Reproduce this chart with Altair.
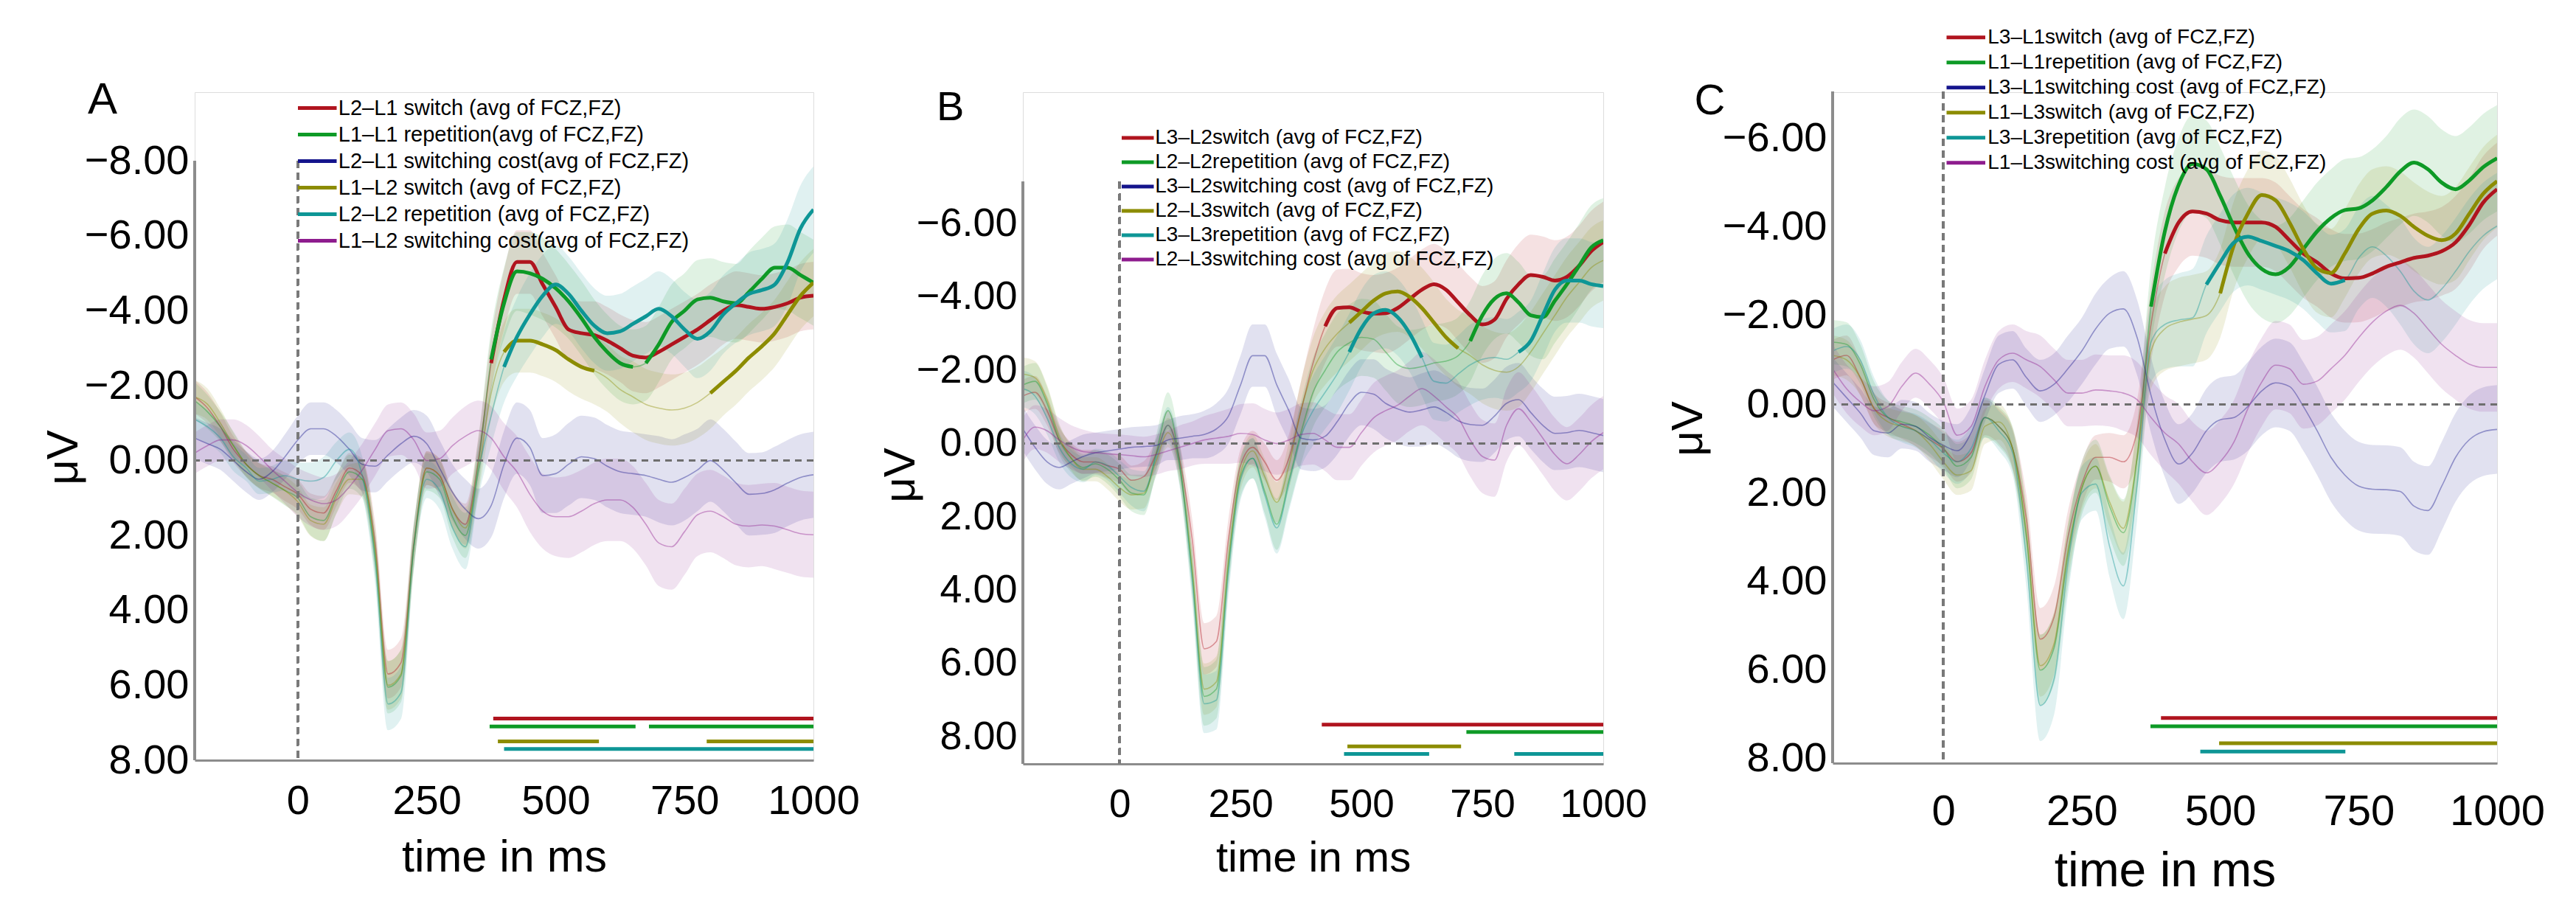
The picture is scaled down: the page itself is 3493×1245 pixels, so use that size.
import altair as alt
import pandas as pd

FONT = "Liberation Sans"
T = list(range(-200, 1001, 25))
COLORS = ["#b0141e", "#0e9a26", "#14148c", "#8c8c00", "#0e9696", "#8e1c8e"]

# ---------------- panel A ----------------
A_LABELS = [
    "L2–L1 switch (avg of FCZ,FZ)",
    "L1–L1 repetition(avg of FCZ,FZ)",
    "L2–L1 switching cost(avg of FCZ,FZ)",
    "L1–L2 switch (avg of FCZ,FZ)",
    "L2–L2 repetition (avg of FCZ,FZ)",
    "L1–L2 switching cost(avg of FCZ,FZ)",
]
A_RED = [-1.7, -1.4, -0.9, -0.3, 0.1, 0.4, 0.5, 0.7,
         0.9, 1.3, 1.4, 0.8, 0.2, 0.4, 2.2, 5.7,
         5.4, 2.2, 0.2, 0.4, 1.3, 1.7, 0.0, -2.6,
         -4.3, -5.3, -5.3, -4.7, -4.1, -3.5, -3.4, -3.35,
         -3.2, -3.0, -2.8, -2.75, -2.9, -3.1, -3.3, -3.5,
         -3.75, -4.0, -4.15, -4.1, -4.05, -4.1, -4.2, -4.35,
         -4.4]
A_GREEN = [-1.6, -1.3, -0.9, -0.4, 0.1, 0.4, 0.6, 0.8,
           1.0, 1.5, 1.6, 0.9, 0.3, 0.5, 2.5, 6.05,
           5.75, 2.3, 0.3, 0.5, 1.5, 2.0, 0.1, -2.7,
           -4.2, -5.05, -5.0, -4.85, -4.6, -4.25, -3.8, -3.3,
           -2.9, -2.6, -2.5, -2.6, -3.1, -3.7, -4.0, -4.3,
           -4.35, -4.25, -4.2, -4.5, -4.85, -5.15, -5.15, -4.95,
           -4.75]
A_BLUE = [-0.6, -0.45, -0.3, 0.0, 0.3, 0.5, 0.3, -0.1,
          -0.55, -0.85, -0.85, -0.65, -0.3, 0.1, 0.15, -0.15,
          -0.45, -0.65, -0.45, 0.2, 0.85, 1.3, 1.55, 1.2,
          0.1, -0.6, -0.35, 0.4, 0.35, 0.1, -0.1, -0.05,
          0.15, 0.3, 0.35, 0.4, 0.5, 0.58, 0.45, 0.25,
          0.0, 0.25, 0.6, 0.9, 0.88, 0.78, 0.6, 0.45,
          0.38]
A_OLIVE = [-1.7, -1.5, -1.0, -0.4, 0.1, 0.4, 0.6, 0.8,
           1.1, 1.6, 1.7, 1.0, 0.5, 0.5, 2.4, 6.0,
           5.7, 2.3, 0.2, 0.4, 1.3, 1.8, 0.3, -1.8,
           -2.9, -3.2, -3.2, -3.1, -2.95, -2.7, -2.5, -2.4,
           -2.2, -1.9, -1.7, -1.5, -1.4, -1.35, -1.4, -1.55,
           -1.8, -2.1, -2.4, -2.75, -3.05, -3.4, -3.9, -4.4,
           -4.75]
A_TEAL = [-1.1, -0.9, -0.6, -0.1, 0.2, 0.55, 0.5, 0.4,
          0.5, 0.55, 0.45, 0.0, -0.3, 0.4, 2.7, 6.5,
          6.2, 2.3, 0.5, 0.8, 1.8, 2.3, 0.3, -1.2,
          -2.5, -3.3, -3.9, -4.4, -4.7, -4.45, -4.0, -3.6,
          -3.4, -3.45, -3.65, -3.85, -4.05, -3.85, -3.5, -3.25,
          -3.45, -3.9, -4.2, -4.45, -4.55, -4.7, -5.3, -6.2,
          -6.7]
A_MAGENTA = [-0.2, -0.4, -0.55, -0.55, -0.4, -0.1, 0.25, 0.55,
             0.85, 1.05, 1.15, 1.05, 0.7, 0.25, -0.3, -0.8,
             -0.85, -0.55, 0.0, -0.05, -0.4, -0.65, -0.8, -0.6,
             -0.1, 0.3, 0.9, 1.35, 1.5, 1.5, 1.35, 1.15,
             1.05, 1.05, 1.25, 1.7, 2.2, 2.3, 1.9, 1.45,
             1.35, 1.5, 1.7, 1.75, 1.72, 1.75, 1.85, 1.95,
             1.98]
A_SEM_SWITCH = [0.45, 0.42, 0.38, 0.35, 0.33, 0.33, 0.35, 0.38,
                0.4, 0.42, 0.45, 0.42, 0.4, 0.45, 0.55, 0.65,
                0.65, 0.55, 0.45, 0.45, 0.5, 0.55, 0.6, 0.7,
                0.8, 0.85, 0.85, 0.85, 0.85, 0.85, 0.85, 0.9,
                0.9, 0.9, 0.95, 0.95, 0.95, 0.95, 0.95, 0.95,
                0.95, 0.9, 0.9, 0.9, 0.9, 0.9, 0.9, 0.9,
                0.9]
A_SEM_REP = [0.5, 0.45, 0.4, 0.38, 0.35, 0.35, 0.36, 0.4,
             0.45, 0.5, 0.55, 0.5, 0.45, 0.5, 0.6, 0.7,
             0.7, 0.6, 0.5, 0.5, 0.55, 0.6, 0.7, 0.8,
             0.95, 1.05, 1.1, 1.1, 1.05, 1.0, 1.0, 1.0,
             1.0, 1.0, 1.0, 1.0, 1.0, 1.0, 1.0, 1.05,
             1.05, 1.05, 1.05, 1.1, 1.1, 1.1, 1.15, 1.15,
             1.15]
A_SEM_COST = [0.55, 0.55, 0.55, 0.55, 0.55, 0.55, 0.55, 0.6,
              0.65, 0.7, 0.7, 0.7, 0.7, 0.7, 0.7, 0.7,
              0.7, 0.7, 0.75, 0.75, 0.75, 0.8, 0.8, 0.85,
              0.9, 0.95, 1.0, 1.0, 1.05, 1.1, 1.1, 1.1,
              1.1, 1.1, 1.1, 1.1, 1.15, 1.15, 1.15, 1.1,
              1.1, 1.1, 1.1, 1.1, 1.1, 1.15, 1.15, 1.15,
              1.15]
A_WINDOWS = [[(379, 1000)], [(372, 655), (681, 1000)], [],
             [(388, 584), (793, 1000)], [(400, 1000)], []]
A_BAR_ROWS = [6.89, 7.1, None, 7.5, 7.7, None]

# ---------------- panel B ----------------
B_LABELS = [
    "L3–L2switch (avg of FCZ,FZ)",
    "L2–L2repetition (avg of FCZ,FZ)",
    "L3–L2switching cost (avg of FCZ,FZ)",
    "L2–L3switch (avg of FCZ,FZ)",
    "L3–L3repetition (avg of FCZ,FZ)",
    "L2–L3switching cost (avg of FCZ,FZ)",
]
B_RED = [-1.3, -1.4, -0.9, -0.1, 0.3, 0.5, 0.5, 0.6,
         0.7, 1.0, 0.9, 0.3, -0.5, 0.5, 2.6, 5.6,
         5.4, 2.6, 0.6, 0.1, 0.5, 1.0, 0.4, -0.9,
         -2.2, -3.2, -3.7, -3.72, -3.6, -3.55, -3.56, -3.7,
         -3.95, -4.2, -4.35, -4.2, -3.85, -3.5, -3.25, -3.38,
         -3.95, -4.35, -4.6, -4.55, -4.45, -4.55, -4.85, -5.25,
         -5.5]
B_GREEN = [-1.6, -1.7, -1.1, -0.1, 0.4, 0.65, 0.55, 0.7,
           1.0, 1.35, 1.4, 0.3, -0.9, 0.6, 3.5, 6.9,
           6.7, 3.3, 0.9, 0.4, 1.3, 2.2, 1.0, -0.3,
           -1.4, -2.0, -2.5, -2.75, -2.9, -2.85, -2.5, -2.15,
           -2.05, -2.1, -2.2, -2.25, -2.4, -2.8, -3.5, -3.95,
           -4.1, -3.85, -3.5, -3.45, -3.9, -4.35, -4.85, -5.35,
           -5.55]
B_BLUE = [-0.4, 0.1, 0.5, 0.65, 0.5, 0.35, 0.25, 0.2,
          0.15, 0.1, 0.08, 0.05, -0.1, -0.15, -0.2, -0.25,
          -0.4, -0.75, -1.6, -2.4, -2.4, -1.6, -0.9, -0.15,
          -0.1, -0.2, -0.6, -1.1, -1.4, -1.35, -1.1, -0.95,
          -0.86, -0.92, -1.0, -0.85, -0.62, -0.52, -0.5, -0.75,
          -1.1, -1.2, -0.85, -0.5, -0.28, -0.3, -0.36, -0.3,
          -0.22]
B_OLIVE = [-1.9, -1.8, -1.2, -0.2, 0.4, 0.7, 0.7, 0.9,
           1.2, 1.4, 1.35, 0.5, -0.3, 0.7, 3.4, 6.7,
           6.5, 3.2, 0.8, 0.2, 0.9, 1.6, 0.6, -0.9,
           -2.0, -2.6, -3.0, -3.3, -3.6, -3.9, -4.1, -4.15,
           -4.0, -3.7, -3.3, -2.9, -2.6, -2.4, -2.15, -2.0,
           -1.95, -2.1, -2.5, -3.0, -3.5, -4.0, -4.4, -4.8,
           -5.0]
B_TEAL = [-1.5, -1.3, -0.7, 0.1, 0.55, 0.7, 0.5, 0.6,
          0.9, 1.2, 1.3, 0.4, -0.5, 0.7, 3.7, 7.1,
          7.0, 3.5, 1.0, 0.4, 1.4, 2.3, 1.1, -0.2,
          -0.9, -1.4, -1.9, -2.5, -3.15, -3.55, -3.65, -3.45,
          -3.0, -2.35, -1.7, -1.65, -1.9, -2.15, -2.3, -2.35,
          -2.3, -2.5, -2.8, -3.5, -4.2, -4.45, -4.45, -4.35,
          -4.3]
B_MAGENTA = [-0.1, -0.45, -0.35, -0.1, 0.1, 0.22, 0.25, 0.28,
             0.3, 0.33, 0.36, 0.3, 0.2, 0.1, 0.0, -0.1,
             -0.15, -0.2, -0.28, -0.25, -0.1, 0.0, -0.1, -0.25,
             -0.28, -0.1, 0.1, 0.1, -0.3, -0.7, -0.9, -1.05,
             -1.3, -1.5, -1.3, -1.0, -0.7, -0.1, 0.35, 0.45,
             -0.5, -0.95, -0.6, -0.15, 0.3, 0.55, 0.3, -0.05,
             -0.3]
B_SEM_SWITCH = [0.45, 0.45, 0.4, 0.35, 0.33, 0.33, 0.33, 0.35,
                0.38, 0.4, 0.42, 0.4, 0.4, 0.45, 0.55, 0.7,
                0.7, 0.55, 0.45, 0.45, 0.5, 0.55, 0.65, 0.8,
                0.9, 1.0, 1.05, 1.05, 1.05, 1.05, 1.1, 1.1,
                1.1, 1.1, 1.1, 1.05, 1.05, 1.05, 1.05, 1.05,
                1.05, 1.1, 1.1, 1.1, 1.1, 1.1, 1.1, 1.1,
                1.1]
B_SEM_REP = [0.5, 0.5, 0.45, 0.4, 0.38, 0.36, 0.36, 0.4,
             0.45, 0.5, 0.55, 0.5, 0.5, 0.55, 0.65, 0.8,
             0.8, 0.65, 0.55, 0.55, 0.6, 0.7, 0.75, 0.85,
             0.95, 1.0, 1.05, 1.05, 1.05, 1.05, 1.05, 1.05,
             1.05, 1.05, 1.05, 1.05, 1.05, 1.1, 1.1, 1.1,
             1.1, 1.1, 1.1, 1.15, 1.15, 1.15, 1.15, 1.15,
             1.15]
B_SEM_COST = [0.6, 0.6, 0.6, 0.6, 0.6, 0.6, 0.55, 0.55,
              0.55, 0.55, 0.55, 0.55, 0.55, 0.6, 0.6, 0.65,
              0.7, 0.75, 0.8, 0.85, 0.85, 0.85, 0.85, 0.85,
              0.85, 0.85, 0.9, 0.9, 0.9, 0.95, 0.95, 0.95,
              0.95, 1.0, 1.0, 1.0, 1.0, 1.0, 1.0, 1.0,
              1.0, 1.0, 1.0, 1.0, 1.0, 1.0, 1.0, 1.0,
              1.0]
B_WINDOWS = [[(418, 1000)], [(717, 1000)], [],
             [(471, 706)], [(464, 640), (816, 1000)], []]
B_BAR_ROWS = [7.67, 7.87, None, 8.26, 8.47, None]

# ---------------- panel C ----------------
C_LABELS = [
    "L3–L1switch (avg of FCZ,FZ)",
    "L1–L1repetition (avg of FCZ,FZ)",
    "L3–L1switching cost (avg of FCZ,FZ)",
    "L1–L3switch (avg of FCZ,FZ)",
    "L3–L3repetition (avg of FCZ,FZ)",
    "L1–L3switching cost (avg of FCZ,FZ)",
]
C_RED = [-1.0, -1.1, -0.6, 0.1, 0.3, 0.45, 0.6, 0.8,
         1.0, 1.3, 1.1, 0.3, 0.5, 1.0, 2.6, 5.3,
         4.8, 3.0, 1.8, 1.2, 1.2, 1.3, 0.6, -1.8,
         -3.4, -4.1, -4.35, -4.3, -4.15, -4.1, -4.1, -4.1,
         -4.0, -3.7, -3.4, -3.2, -2.95, -2.84, -2.85, -2.95,
         -3.1, -3.2, -3.3, -3.35, -3.45, -3.65, -4.05, -4.55,
         -4.85]
C_GREEN = [-1.4, -1.35, -0.9, -0.1, 0.3, 0.4, 0.5, 0.7,
           1.0, 1.4, 1.2, 0.3, 0.5, 1.0, 3.0, 6.0,
           5.5, 3.4, 1.9, 1.4, 2.3, 2.9, 1.2, -2.2,
           -3.9, -4.95, -5.42, -5.3, -4.7, -4.0, -3.4, -3.05,
           -2.93, -3.1, -3.5, -3.9, -4.2, -4.38, -4.42, -4.6,
           -4.9, -5.25, -5.45, -5.3, -5.0, -4.85, -5.05, -5.35,
           -5.55]
C_BLUE = [-0.5, -0.15, 0.2, 0.6, 0.65, 0.45, 0.5, 0.75,
          0.93, 1.05, 0.65, -0.2, -0.9, -1.0, -0.6, -0.3,
          -0.45, -0.8, -1.2, -1.7, -2.05, -2.15, -1.5, -0.2,
          0.8, 1.35, 1.1, 0.6, 0.35, 0.3, 0.05, -0.3,
          -0.48, -0.4, 0.05, 0.6, 1.2, 1.6, 1.85, 1.92,
          1.93, 1.97, 2.3, 2.4, 1.85, 1.2, 0.8, 0.62,
          0.57]
C_OLIVE = [-1.1, -1.0, -0.6, 0.1, 0.4, 0.5, 0.6, 0.9,
           1.3, 1.6, 1.5, 0.5, 0.4, 1.0, 2.9, 5.9,
           5.4, 3.3, 1.9, 1.4, 2.2, 2.8, 1.2, -1.2,
           -1.7, -1.85, -1.92, -2.0, -2.5, -3.6, -4.3, -4.72,
           -4.6, -4.1, -3.5, -3.06, -2.96, -3.4, -3.95, -4.3,
           -4.37, -4.25, -4.0, -3.8, -3.7, -3.85, -4.3, -4.75,
           -5.03]
C_TEAL = [-1.2, -1.3, -1.0, -0.2, 0.3, 0.5, 0.6, 0.8,
          1.1, 1.3, 1.0, 0.3, 0.6, 1.1, 3.5, 6.8,
          6.2, 3.6, 2.0, 1.8, 3.2, 4.1, 1.8, -1.4,
          -1.8, -1.9, -1.95, -2.7, -3.2, -3.65, -3.78, -3.68,
          -3.57, -3.45, -3.25, -2.95, -2.72, -2.8, -3.3, -3.55,
          -3.35, -3.0, -2.55, -2.35, -2.6, -3.0, -3.45, -3.8,
          -4.02]
C_MAGENTA = [-0.8, -0.35, -0.05, 0.15, 0.05, -0.4, -0.7, -0.45,
             -0.05, 0.7, 0.5, -0.4, -1.0, -1.15, -1.0, -0.85,
             -0.55, -0.25, -0.25, -0.32, -0.3, -0.25, -0.1, 0.3,
             0.65, 0.9, 1.3, 1.55, 1.3, 0.85, 0.1, -0.5,
             -0.88, -0.8, -0.45, -0.52, -0.8, -1.1, -1.5, -1.85,
             -2.1, -2.23, -2.05, -1.7, -1.35, -1.1, -0.9, -0.83,
             -0.83]
C_SEM_SWITCH = [0.45, 0.45, 0.4, 0.35, 0.33, 0.33, 0.35, 0.38,
                0.4, 0.45, 0.45, 0.4, 0.4, 0.45, 0.55, 0.7,
                0.7, 0.6, 0.5, 0.5, 0.55, 0.6, 0.7, 0.85,
                0.95, 1.0, 1.0, 1.0, 1.0, 1.0, 1.0, 1.0,
                1.0, 1.0, 1.0, 1.0, 1.0, 1.0, 1.0, 1.0,
                1.0, 1.0, 1.0, 1.0, 1.0, 1.05, 1.05, 1.05,
                1.05]
C_SEM_REP = [0.5, 0.5, 0.45, 0.4, 0.38, 0.36, 0.38, 0.4,
             0.45, 0.5, 0.5, 0.45, 0.45, 0.5, 0.65, 0.8,
             0.8, 0.7, 0.6, 0.6, 0.7, 0.75, 0.8, 0.9,
             1.0, 1.05, 1.1, 1.1, 1.1, 1.1, 1.1, 1.1,
             1.1, 1.1, 1.1, 1.1, 1.1, 1.15, 1.15, 1.15,
             1.15, 1.2, 1.2, 1.2, 1.2, 1.2, 1.2, 1.2,
             1.2]
C_SEM_COST = [0.55, 0.55, 0.55, 0.55, 0.55, 0.55, 0.55, 0.55,
              0.55, 0.6, 0.6, 0.6, 0.65, 0.65, 0.65, 0.7,
              0.7, 0.75, 0.75, 0.8, 0.8, 0.85, 0.85, 0.85,
              0.85, 0.9, 0.9, 0.95, 0.95, 0.95, 1.0, 1.0,
              1.0, 1.0, 1.0, 1.0, 1.0, 1.0, 1.0, 1.0,
              1.0, 1.0, 1.0, 1.0, 1.0, 1.0, 1.0, 1.0,
              1.0]
C_WINDOWS = [[(393, 1000)], [(374, 1000)], [],
             [(498, 1000)], [(464, 726)], []]
C_BAR_ROWS = [7.08, 7.27, None, 7.65, 7.84, None]


def build_frames(labels, series, sems, windows, bar_rows):
    rows, thick, bars = [], [], []
    for lab, vals, sem in zip(labels, series, sems):
        for t, v, s in zip(T, vals, sem):
            rows.append({"t": t, "v": v, "lo": v - s, "hi": v + s, "label": lab})
    for k, lab in enumerate(labels):
        for j, (s, e) in enumerate(windows[k]):
            bars.append({"label": lab, "start": s, "end": e, "row": bar_rows[k]})
            t0 = 25 * round(s / 25)
            for t, v in zip(T, series[k]):
                if t0 <= t <= e:
                    thick.append({"t": t, "v": v, "label": lab, "seg": f"{k}-{j}"})
    return pd.DataFrame(rows), pd.DataFrame(thick), pd.DataFrame(bars)


def panel(letter, labels, series, sems, windows, bar_rows, st):
    df, thick_df, bar_df = build_frames(labels, series, sems, windows, bar_rows)
    top_lim, bottom_lim = st["ylim"]

    x_axis = alt.Axis(values=[0, 250, 500, 750, 1000], format="d", grid=False,
                      ticks=False, domainColor="#8c8c8c", domainWidth=3,
                      labelFont=FONT, labelFontSize=st["xlab"], labelColor="black",
                      labelPadding=st["xpad"], labelBaseline="alphabetic",
                      labelFlush=False, labelOverlap=False,
                      title="time in ms", titleFont=FONT, titleFontSize=st["xtitle"],
                      titleFontWeight="normal", titleColor="black",
                      titleBaseline="alphabetic", titleY=st["xtitle_y"])
    y_axis = alt.Axis(values=st["yticks"], format=".2f", grid=False, ticks=False,
                      domain=False, labelFont=FONT, labelFontSize=st["ylab"],
                      labelColor="black", labelPadding=8, labelFlush=False,
                      title="μV", titleFont=FONT, titleFontSize=60,
                      titleFontWeight="normal", titleColor="black", titleAngle=270,
                      titleAlign="center", titleBaseline="middle",
                      titleX=st["ytitle_x"], titleY=st["ytitle_y"])

    xs = alt.Scale(domain=[-200, 1000], nice=False, zero=False)
    ys = alt.Scale(domain=st["ydomain"], reverse=True, nice=False, zero=False)
    cs = alt.Scale(domain=labels, range=COLORS)

    x = alt.X("t:Q", scale=xs, axis=x_axis)
    legend = alt.Legend(orient="none", legendX=st["legx"], legendY=st["legy"],
                        title=None, padding=0, labelFont=FONT,
                        labelFontSize=st["legfont"], labelColor="black",
                        labelLimit=2000, labelOffset=st["legoff"],
                        rowPadding=st["legrow"], symbolType=st["legsym"],
                        symbolSize=900, symbolStrokeWidth=5, symbolOpacity=1,
                        symbolFillColor="transparent")
    color = alt.Color("label:N", scale=cs, legend=legend)

    bands = alt.Chart(df).mark_area(opacity=0.13, interpolate="monotone", clip=True).encode(
        x=x,
        y=alt.Y("lo:Q", scale=ys, axis=y_axis),
        y2="hi:Q",
        color=color,
    )
    thin = alt.Chart(df).mark_line(strokeWidth=1.6, opacity=0.4, interpolate="monotone",
                                   clip=True).encode(
        x=x,
        y=alt.Y("v:Q", scale=ys, axis=y_axis),
        color=color,
    )
    zero_h = alt.Chart(df).mark_rule(color="#6f6f6f", strokeWidth=2.5,
                                     strokeDash=[9, 7]).encode(y=alt.datum(0))
    zero_v = alt.Chart(df).mark_rule(color="#7a7a7a", strokeWidth=2.5,
                                     strokeDash=[9, 7]).encode(
        x=alt.datum(0), y=alt.datum(top_lim), y2=alt.datum(bottom_lim))
    y_line = alt.Chart(df).mark_rule(color="#8c8c8c", strokeWidth=3).encode(
        x=alt.datum(-200), y=alt.datum(top_lim), y2=alt.datum(bottom_lim))
    thick = alt.Chart(thick_df).mark_line(strokeWidth=5, interpolate="monotone",
                                          clip=True).encode(
        x=x,
        y=alt.Y("v:Q", scale=ys, axis=y_axis),
        color=color,
        detail="seg:N",
    )
    bars = alt.Chart(bar_df).mark_rule(strokeWidth=5).encode(
        x=alt.X("start:Q", scale=xs, axis=x_axis),
        x2="end:Q",
        y=alt.Y("row:Q", scale=ys, axis=y_axis),
        color=color,
    )

    title = alt.TitleParams(text=letter, anchor="start", frame="group", font=FONT,
                            fontSize=st["letter_size"], fontWeight="normal",
                            color="black", align="left", baseline="alphabetic",
                            offset=0, dx=st["letter_dx"], dy=st["letter_dy"])

    return alt.layer(bands, thin, zero_h, zero_v, y_line, thick, bars).properties(
        width=st["width"], height=st["height"], title=title)


STYLE_A = dict(width=839, height=906, ydomain=[-9.835, 8], ylim=(-8, 8),
               yticks=[-8, -6, -4, -2, 0, 2, 4, 6, 8], xlab=56, ylab=56, xpad=72,
               xtitle=61, xtitle_y=150, ytitle_x=-178, ytitle_y=495,
               legx=148.75, legy=4, legoff=11, legrow=3, legfont=29,
               legsym="M-1.75,0H1.75",
               letter_size=60, letter_dx=-145, letter_dy=89)
STYLE_B = dict(width=787, height=911, ydomain=[-9.59, 8.74], ylim=(-7.14, 8.74),
               yticks=[-6, -4, -2, 0, 2, 4, 6, 8], xlab=53, ylab=54, xpad=71,
               xtitle=58, xtitle_y=145, ytitle_x=-166, ytitle_y=519,
               legx=138.25, legy=44.5, legoff=6, legrow=1, legfont=28,
               legsym="M-1.45,0H1.45",
               letter_size=56, letter_dx=-117, letter_dy=94)
STYLE_C = dict(width=901, height=910, ydomain=[-7.04, 8.1], ylim=(-7.05, 8.1),
               yticks=[-6, -4, -2, 0, 2, 4, 6, 8], xlab=58, ylab=56, xpad=83,
               xtitle=66, xtitle_y=166, ytitle_x=-196, ytitle_y=456,
               legx=163.25, legy=-91.7, legoff=12, legrow=2, legfont=28,
               legsym="M-1.75,0H1.75",
               letter_size=58, letter_dx=-187.5, letter_dy=180)

pa = panel("A", A_LABELS, [A_RED, A_GREEN, A_BLUE, A_OLIVE, A_TEAL, A_MAGENTA],
           [A_SEM_SWITCH, A_SEM_REP, A_SEM_COST, A_SEM_SWITCH, A_SEM_REP, A_SEM_COST],
           A_WINDOWS, A_BAR_ROWS, STYLE_A)
pb = panel("B", B_LABELS, [B_RED, B_GREEN, B_BLUE, B_OLIVE, B_TEAL, B_MAGENTA],
           [B_SEM_SWITCH, B_SEM_REP, B_SEM_COST, B_SEM_SWITCH, B_SEM_REP, B_SEM_COST],
           B_WINDOWS, B_BAR_ROWS, STYLE_B)
pc = panel("C", C_LABELS, [C_RED, C_GREEN, C_BLUE, C_OLIVE, C_TEAL, C_MAGENTA],
           [C_SEM_SWITCH, C_SEM_REP, C_SEM_COST, C_SEM_SWITCH, C_SEM_REP, C_SEM_COST],
           C_WINDOWS, C_BAR_ROWS, STYLE_C)

chart = alt.hconcat(pa, pb, pc, spacing=24).resolve_scale(
    color="independent", x="independent", y="independent"
).resolve_legend(color="independent").properties(
    padding={"left": 47, "top": 24, "right": 5, "bottom": 5}
).configure_view(stroke=None).configure(background="white")

chart.save("out.html", embed_options={"renderer": "svg", "actions": False})
